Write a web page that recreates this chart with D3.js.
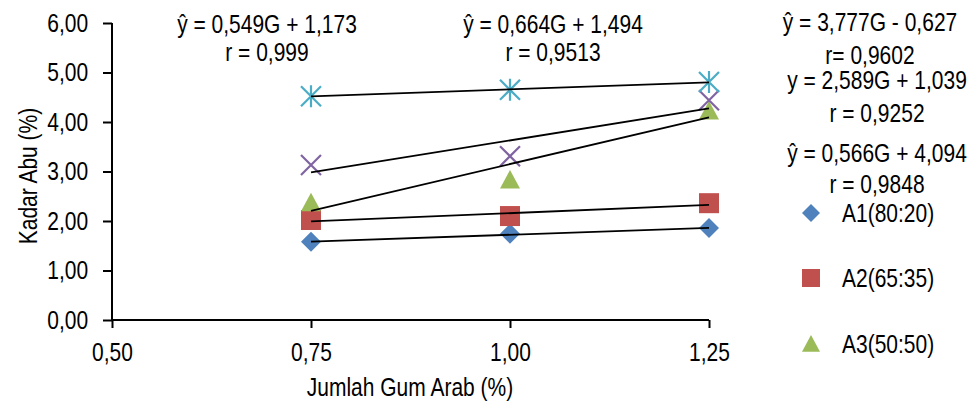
<!DOCTYPE html>
<html>
<head>
<meta charset="utf-8">
<script src="https://cdn.jsdelivr.net/npm/d3@7"></script>
<style>
  html, body { margin: 0; padding: 0; background: #fff; }
  svg { display: block; }
  text { font-family: "Liberation Sans", Arial, sans-serif; fill: #000; }
</style>
</head>
<body>
<svg id="chart" width="976" height="407"></svg>
<script>
// ---------- data ----------
const xValues = [0.75, 1.00, 1.25];
const seriesNames = ["A1(80:20)", "A2(65:35)", "A3(50:50)", "A4", "A5"];
const seriesA1 = [1.58, 1.74, 1.86];
const seriesA2 = [2.02, 2.10, 2.36];
const seriesA3 = [2.37, 2.83, 4.22];
const seriesA4 = [3.13, 3.31, 4.44];
const seriesA5 = [4.52, 4.65, 4.81];
const trendSlopes = [0.549, 0.664, 3.777, 2.589, 0.566];
const trendIntercepts = [1.173, 1.494, -0.627, 1.039, 4.094];
const equationLines = [
  ["ŷ = 0,549G + 1,173", "r = 0,999"],
  ["ŷ = 0,664G + 1,494", "r = 0,9513"],
  ["ŷ = 3,777G - 0,627", "r= 0,9602"],
  ["y = 2,589G + 1,039", "r = 0,9252"],
  ["ŷ = 0,566G + 4,094", "r = 0,9848"]
];
const xTicks = [0.50, 0.75, 1.00, 1.25];
const yTicks = [0, 1, 2, 3, 4, 5, 6];
const legendShown = ["A1(80:20)", "A2(65:35)", "A3(50:50)"];

// ---------- styles ----------
const colors = ["#4F81BD", "#C0504D", "#9BBB59", "#8064A2", "#4BACC6"];
const shapes = ["diamond", "square", "triangle", "x", "star"];
const FS = 25, SX = 0.84;

const svg = d3.select("#chart");
const x = d3.scaleLinear().domain([0.5, 1.25]).range([112, 709]);
const y = d3.scaleLinear().domain([0, 6]).range([320, 23]);
const loc = d3.formatLocale({decimal: ",", thousands: ".", grouping: [3], currency: ["", ""]});
const fmt = loc.format(".2f");

function addText(px, py, str, anchor) {
  const g = svg.append("g").attr("transform", `translate(${px},${py}) scale(${SX},1)`);
  return g.append("text").attr("text-anchor", anchor || "middle")
    .style("font-size", FS + "px").text(str);
}

function drawMarker(g, shape, color, cx, cy, s) {
  const h = s / 2;
  if (shape === "diamond") {
    g.append("path").attr("d", `M${cx},${cy - h}L${cx + h},${cy}L${cx},${cy + h}L${cx - h},${cy}Z`).attr("fill", color);
  } else if (shape === "square") {
    g.append("rect").attr("x", cx - h).attr("y", cy - h).attr("width", s).attr("height", s).attr("fill", color);
  } else if (shape === "triangle") {
    g.append("path").attr("d", `M${cx},${cy - h}L${cx + h},${cy + h * 0.85}L${cx - h},${cy + h * 0.85}Z`).attr("fill", color);
  } else if (shape === "x") {
    g.append("path").attr("d", `M${cx - h},${cy - h}L${cx + h},${cy + h}M${cx - h},${cy + h}L${cx + h},${cy - h}`)
      .attr("stroke", color).attr("stroke-width", 2.2).attr("fill", "none");
  } else if (shape === "star") {
    g.append("path").attr("d", `M${cx - h},${cy - h}L${cx + h},${cy + h}M${cx - h},${cy + h}L${cx + h},${cy - h}M${cx},${cy - h - 1}L${cx},${cy + h + 1}`)
      .attr("stroke", color).attr("stroke-width", 2.2).attr("fill", "none");
  }
}

// ---------- axes ----------
const yAxis = svg.append("g").attr("transform", "translate(112,0)")
  .call(d3.axisLeft(y).tickValues(yTicks).tickSize(9).tickPadding(19.5).tickFormat(fmt));
const xAxis = svg.append("g").attr("transform", "translate(0,320)")
  .call(d3.axisBottom(x).tickValues(xTicks).tickSize(8).tickPadding(15).tickFormat(fmt));
[yAxis, xAxis].forEach(a => {
  a.select(".domain").attr("stroke", "#000").attr("stroke-width", 2);
  a.selectAll(".tick line").attr("stroke", "#000").attr("stroke-width", 2);
  a.selectAll(".tick text").attr("fill", "#000")
    .style("font-size", FS + "px").style("font-family", '"Liberation Sans", Arial, sans-serif')
    .attr("transform", `scale(${SX},1)`);
});
// remove the outer "ticks" part of domain path
yAxis.select(".domain").attr("d", `M0,${y(6)}V${y(0)}`);
xAxis.select(".domain").attr("d", `M${x(0.5)},0H${x(1.25)}`);

// axis titles
svg.append("g").attr("transform", `translate(37,176) rotate(-90) scale(${SX},1)`)
  .append("text").attr("text-anchor", "middle").style("font-size", FS + "px").text("Kadar Abu (%)");
addText(410, 396, "Jumlah Gum Arab (%)");

// ---------- markers ----------
const allSeries = [seriesA1, seriesA2, seriesA3, seriesA4, seriesA5];
const markG = svg.append("g");
allSeries.forEach((vals, i) => {
  vals.forEach((v, j) => drawMarker(markG, shapes[i], colors[i], x(xValues[j]), y(v), 20));
});

// ---------- trend lines ----------
const lineG = svg.append("g");
const gMin = d3.min(xValues), gMax = d3.max(xValues);
trendSlopes.forEach((m, i) => {
  const b = trendIntercepts[i];
  lineG.append("line")
    .attr("x1", x(gMin)).attr("y1", y(m * gMin + b))
    .attr("x2", x(gMax)).attr("y2", y(m * gMax + b))
    .attr("stroke", "#000").attr("stroke-width", 1.8);
});

// ---------- equation labels ----------
const eqPos = [[267, 33, 61], [553, 33, 61], [870, 31, 64], [877, 89, 122], [877, 162, 193]];
equationLines.forEach((lines, i) => {
  addText(eqPos[i][0], eqPos[i][1], lines[0]);
  addText(eqPos[i][0], eqPos[i][2], lines[1]);
});

// ---------- legend ----------
const legY = [213, 278, 344];
const legG = svg.append("g");
legendShown.forEach((name, k) => {
  const i = seriesNames.indexOf(name);
  drawMarker(legG, shapes[i], colors[i], 811, legY[k], 18);
  addText(842, legY[k] + 9, name, "start");
});
</script>
</body>
</html>
